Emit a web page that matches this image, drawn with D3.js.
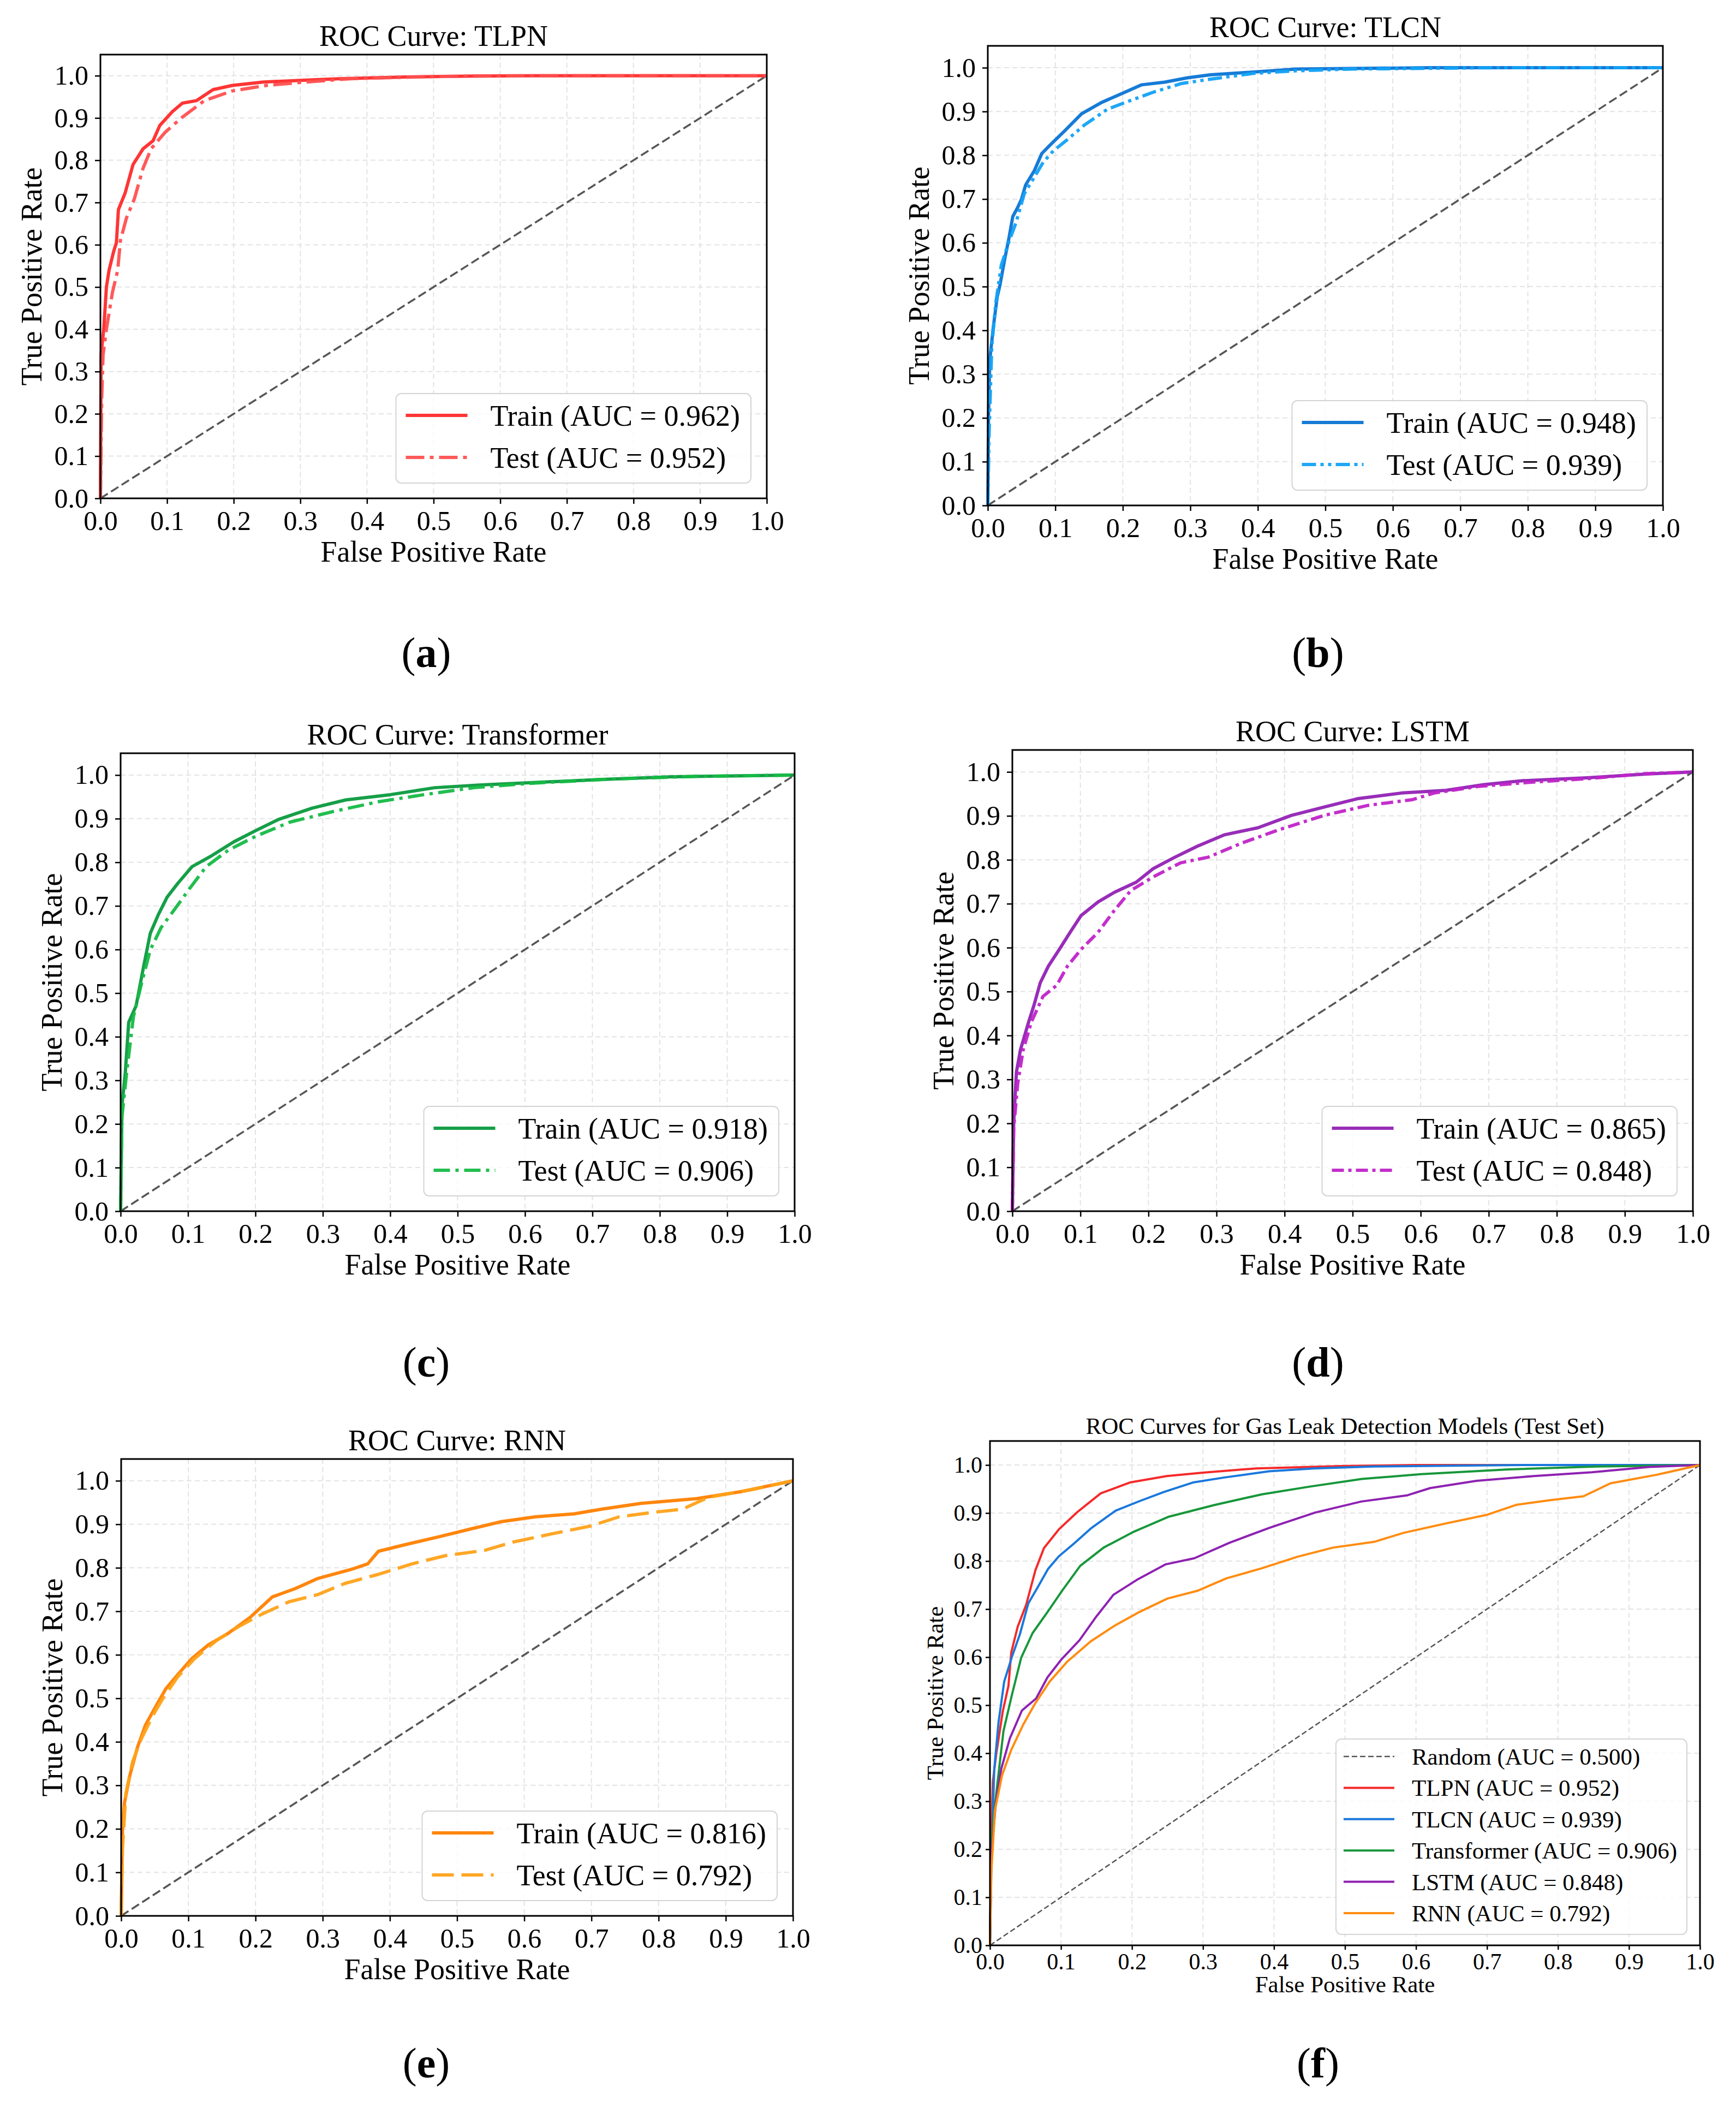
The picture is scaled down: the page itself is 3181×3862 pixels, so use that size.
<!DOCTYPE html>
<html>
<head>
<meta charset="utf-8">
<script src="https://cdn.jsdelivr.net/npm/d3@7"></script>
<style>body{margin:0;background:#fff}</style>
</head>
<body>
<svg id="main-svg"></svg>
<script>
// --- 1. Data ---
const models = ["TLPN", "TLCN", "Transformer", "LSTM", "RNN"];
const trainAuc = [0.962, 0.948, 0.918, 0.865, 0.816];
const testAuc = [0.952, 0.939, 0.906, 0.848, 0.792];
const randomAuc = 0.500;
const axisTicks = [0, 0.1, 0.2, 0.3, 0.4, 0.5, 0.6, 0.7, 0.8, 0.9, 1.0];
const panelLetters = ["a", "b", "c", "d", "e", "f"];

// [FPR, TPR] pairs
const tlpnTrain = [[0,0],[0.001,0.34],[0.005,0.40],[0.009,0.50],[0.013,0.54],[0.02,0.585],[0.024,0.605],[0.027,0.683],[0.037,0.722],[0.049,0.79],[0.064,0.827],[0.079,0.846],[0.089,0.882],[0.108,0.915],[0.123,0.935],[0.144,0.941],[0.169,0.967],[0.198,0.977],[0.245,0.985],[0.30,0.989],[0.358,0.993],[0.46,0.997],[0.55,0.999],[0.65,1.0],[1,1]];
const tlpnTest = [[0,0],[0.002,0.24],[0.004,0.34],[0.009,0.40],[0.018,0.487],[0.026,0.54],[0.03,0.61],[0.039,0.663],[0.051,0.709],[0.064,0.781],[0.076,0.827],[0.097,0.866],[0.123,0.902],[0.156,0.941],[0.198,0.964],[0.249,0.977],[0.30,0.984],[0.375,0.993],[0.50,0.998],[0.6,1.0],[1,1]];

const tlcnTrain = [[0,0],[0.001,0.20],[0.003,0.333],[0.008,0.405],[0.014,0.477],[0.018,0.503],[0.025,0.562],[0.031,0.608],[0.037,0.66],[0.044,0.68],[0.05,0.70],[0.056,0.732],[0.069,0.765],[0.08,0.804],[0.092,0.823],[0.114,0.856],[0.139,0.895],[0.169,0.921],[0.203,0.944],[0.228,0.961],[0.262,0.967],[0.296,0.977],[0.33,0.984],[0.393,0.99],[0.457,0.997],[0.655,1.0],[1,1]];
const tlcnTest = [[0,0],[0.002,0.17],[0.006,0.366],[0.012,0.464],[0.02,0.549],[0.031,0.601],[0.042,0.647],[0.054,0.712],[0.067,0.745],[0.082,0.784],[0.097,0.81],[0.118,0.836],[0.143,0.869],[0.177,0.905],[0.211,0.925],[0.245,0.944],[0.287,0.964],[0.33,0.974],[0.393,0.987],[0.457,0.993],[0.54,0.997],[0.75,1.0],[1,1]];

const transTrain = [[0,0],[0.002,0.242],[0.007,0.318],[0.012,0.433],[0.023,0.471],[0.034,0.56],[0.044,0.637],[0.056,0.68],[0.069,0.72],[0.085,0.752],[0.106,0.79],[0.135,0.815],[0.168,0.847],[0.201,0.873],[0.234,0.898],[0.284,0.924],[0.334,0.943],[0.40,0.955],[0.466,0.971],[0.532,0.977],[0.615,0.983],[0.714,0.99],[0.814,0.996],[1,1]];
const transTest = [[0,0],[0.002,0.217],[0.009,0.318],[0.019,0.446],[0.031,0.522],[0.044,0.599],[0.06,0.65],[0.081,0.694],[0.102,0.739],[0.127,0.79],[0.16,0.828],[0.201,0.86],[0.251,0.892],[0.317,0.917],[0.383,0.939],[0.45,0.955],[0.524,0.971],[0.607,0.981],[0.731,0.991],[0.855,0.997],[1,1]];

const lstmTrain = [[0,0],[0.002,0.203],[0.006,0.317],[0.012,0.368],[0.024,0.431],[0.032,0.47],[0.041,0.52],[0.053,0.558],[0.069,0.596],[0.085,0.635],[0.101,0.673],[0.126,0.704],[0.15,0.726],[0.182,0.749],[0.207,0.78],[0.239,0.806],[0.272,0.831],[0.312,0.857],[0.361,0.873],[0.41,0.901],[0.458,0.92],[0.507,0.939],[0.572,0.952],[0.637,0.958],[0.693,0.971],[0.75,0.98],[0.848,0.987],[0.929,0.995],[1,1]];
const lstmTest = [[0,0],[0.002,0.19],[0.008,0.292],[0.016,0.368],[0.028,0.431],[0.045,0.489],[0.065,0.514],[0.081,0.558],[0.101,0.596],[0.126,0.635],[0.15,0.685],[0.174,0.73],[0.207,0.761],[0.247,0.793],[0.288,0.806],[0.337,0.838],[0.393,0.869],[0.458,0.901],[0.523,0.924],[0.588,0.937],[0.62,0.952],[0.685,0.967],[0.766,0.977],[0.848,0.985],[0.929,0.996],[1,1]];

const rnnTrain = [[0,0],[0.002,0.197],[0.005,0.26],[0.013,0.323],[0.024,0.386],[0.036,0.438],[0.051,0.48],[0.067,0.523],[0.084,0.554],[0.105,0.591],[0.13,0.623],[0.159,0.649],[0.192,0.686],[0.225,0.733],[0.259,0.752],[0.292,0.775],[0.342,0.796],[0.367,0.809],[0.383,0.838],[0.425,0.854],[0.475,0.872],[0.525,0.891],[0.566,0.906],[0.616,0.917],[0.674,0.924],[0.716,0.935],[0.774,0.948],[0.857,0.959],[0.923,0.975],[1,1]];
const rnnTest = [[0,0],[0.002,0.155],[0.007,0.281],[0.017,0.354],[0.03,0.407],[0.047,0.46],[0.063,0.502],[0.084,0.549],[0.109,0.591],[0.142,0.633],[0.175,0.665],[0.209,0.693],[0.25,0.722],[0.292,0.738],[0.333,0.764],[0.383,0.785],[0.433,0.809],[0.483,0.828],[0.541,0.84],[0.583,0.859],[0.641,0.878],[0.699,0.896],[0.741,0.917],[0.79,0.927],[0.836,0.935],[0.874,0.962],[0.94,0.98],[1,1]];

const trainCurves = [tlpnTrain, tlcnTrain, transTrain, lstmTrain, rnnTrain];
const testCurves = [tlpnTest, tlcnTest, transTest, lstmTest, rnnTest];

// --- 2. Setup ---
const width = 3181, height = 3862;
const FONT = "'Liberation Serif', 'Times New Roman', serif";
const svg = d3.select("#main-svg")
    .attr("width", width)
    .attr("height", height)
    .style("background-color", "#fff");

// per-panel styles
const trainColors = ["#ff2a2a", "#0a74d4", "#0a9a3e", "#9222b4", "#ff7f00"];
const testColors = ["#ff5050", "#12a2f5", "#16bb46", "#c024c8", "#ffa21a"];
const testDashes = ["34,10,7,10", "26,8,6,8,6,8", "30,10,6,10", "22,8,6,8", "40,14"];
const compareColors = ["#f52a2a", "#1a78dc", "#17973a", "#8e22b2", "#ff8c10"];

// plot boxes: left, right, top, bottom
const boxes = [
    [184, 1405, 100, 913],
    [1810, 3047, 84, 926],
    [221, 1456, 1380, 2219],
    [1855, 3102, 1374, 2219],
    [222, 1453, 2673, 3510],
    [1814, 3115, 2640, 3564]
];
const letterPos = [[781, 1222], [2415, 1222], [781, 2522], [2415, 2522], [781, 3806], [2415, 3806]];

const bigStyle = {fs: 54, tickFs: 50, tickLen: 10, tickPad: 12, xlabOff: 116, ylabOff: 127, titleOff: 16,
    curveW: 6, diagW: 3.5, diagDash: "16,7",
    leg: {padL: 18, lineLen: 113, gap: 42, padR: 20, rowH: 77, padTop: 40, padBottom: 47, insetR: 29, insetB: 28}};
const smallStyle = {fs: 43, tickFs: 42, tickLen: 8, tickPad: 6, xlabOff: 86, ylabOff: 101, titleOff: 13,
    curveW: 4, diagW: 2.5, diagDash: "10,5",
    leg: {padL: 14, lineLen: 93, gap: 32, padR: 18, rowH: 57.4, padTop: 32, padBottom: 39, insetR: 24, insetB: 20}};

// --- 3. Drawing ---
function drawPanel(box, title, series, st) {
    const [left, right, top, bottom] = box;
    const g = svg.append("g");
    const x = d3.scaleLinear().domain([0, 1]).range([left, right]);
    const y = d3.scaleLinear().domain([0, 1.05]).range([bottom, top]);
    const line = d3.line().x(d => x(d[0])).y(d => y(d[1]));

    // grid
    g.append("g").selectAll("line").data(axisTicks).join("line")
        .attr("x1", d => x(d)).attr("x2", d => x(d)).attr("y1", top).attr("y2", bottom)
        .attr("stroke", "#e3e3e3").attr("stroke-width", 2).attr("stroke-dasharray", "9,6");
    g.append("g").selectAll("line").data(axisTicks).join("line")
        .attr("y1", d => y(d)).attr("y2", d => y(d)).attr("x1", left).attr("x2", right)
        .attr("stroke", "#e3e3e3").attr("stroke-width", 2).attr("stroke-dasharray", "9,6");

    // curves
    series.forEach(s => {
        g.append("path").datum(s.data).attr("d", line)
            .attr("fill", "none")
            .attr("stroke", s.color)
            .attr("stroke-width", s.width)
            .attr("stroke-dasharray", s.dash)
            .attr("stroke-linejoin", "round")
            .attr("stroke-opacity", s.opacity);
    });

    // frame
    g.append("rect").attr("x", left).attr("y", top)
        .attr("width", right - left).attr("height", bottom - top)
        .attr("fill", "none").attr("stroke", "#000").attr("stroke-width", 3);

    // axes
    const styleAxis = a => {
        a.select(".domain").remove();
        a.selectAll("line").attr("stroke", "#000").attr("stroke-width", 2.5);
        a.selectAll("text").attr("font-size", st.tickFs).attr("font-family", FONT).attr("fill", "#000");
    };
    g.append("g").attr("transform", `translate(0,${bottom})`)
        .call(d3.axisBottom(x).tickValues(axisTicks).tickFormat(d3.format(".1f"))
            .tickSize(st.tickLen).tickPadding(st.tickPad))
        .call(styleAxis);
    g.append("g").attr("transform", `translate(${left},0)`)
        .call(d3.axisLeft(y).tickValues(axisTicks).tickFormat(d3.format(".1f"))
            .tickSize(st.tickLen).tickPadding(st.tickPad))
        .call(styleAxis);

    // labels
    g.append("text").text(title)
        .attr("x", (left + right) / 2).attr("y", top - st.titleOff)
        .attr("text-anchor", "middle").attr("font-family", FONT).attr("font-size", st.fs);
    g.append("text").text("False Positive Rate")
        .attr("x", (left + right) / 2).attr("y", bottom + st.xlabOff)
        .attr("text-anchor", "middle").attr("font-family", FONT).attr("font-size", st.fs);
    g.append("text").text("True Positive Rate")
        .attr("transform", `translate(${left - st.ylabOff},${(top + bottom) / 2}) rotate(-90)`)
        .attr("text-anchor", "middle").attr("dy", "0.35em")
        .attr("font-family", FONT).attr("font-size", st.fs);

    // legend
    const L = st.leg;
    const items = series.filter(s => s.label);
    const lg = g.append("g");
    const boxRect = lg.append("rect");
    const texts = items.map((s, i) => lg.append("text").text(s.label)
        .attr("font-family", FONT).attr("font-size", st.fs).attr("dy", "0.35em"));
    const maxW = d3.max(texts, t => t.node().getComputedTextLength());
    const bw = L.padL + L.lineLen + L.gap + maxW + L.padR;
    const bh = L.padTop + (items.length - 1) * L.rowH + L.padBottom;
    const bx = right - L.insetR - bw;
    const by = bottom - L.insetB - bh;
    boxRect.attr("x", bx).attr("y", by).attr("width", bw).attr("height", bh)
        .attr("rx", 10).attr("fill", "#fff").attr("fill-opacity", 0.8)
        .attr("stroke", "#d4d4d4").attr("stroke-width", 2);
    items.forEach((s, i) => {
        const ry = by + L.padTop + i * L.rowH;
        lg.append("line").attr("x1", bx + L.padL).attr("x2", bx + L.padL + L.lineLen)
            .attr("y1", ry).attr("y2", ry)
            .attr("stroke", s.color).attr("stroke-width", s.width)
            .attr("stroke-dasharray", s.dash).attr("stroke-opacity", s.opacity);
        texts[i].attr("x", bx + L.padL + L.lineLen + L.gap).attr("y", ry);
    });
}

function diagonal(st, label) {
    return {data: [[0, 0], [1, 1]], color: "#444", width: st.diagW, dash: st.diagDash, opacity: 0.9, label: label};
}

// panels (a)-(e): one model each, train vs test
models.forEach((m, i) => {
    drawPanel(boxes[i], `ROC Curve: ${m}`, [
        diagonal(bigStyle, null),
        {data: trainCurves[i], color: trainColors[i], width: bigStyle.curveW, dash: null, opacity: 0.95,
            label: `Train (AUC = ${trainAuc[i].toFixed(3)})`},
        {data: testCurves[i], color: testColors[i], width: bigStyle.curveW, dash: testDashes[i], opacity: 0.95,
            label: `Test (AUC = ${testAuc[i].toFixed(3)})`}
    ], bigStyle);
});

// panel (f): all test curves
drawPanel(boxes[5], "ROC Curves for Gas Leak Detection Models (Test Set)",
    [diagonal(smallStyle, `Random (AUC = ${randomAuc.toFixed(3)})`)].concat(models.map((m, i) => ({
        data: testCurves[i], color: compareColors[i], width: smallStyle.curveW, dash: null, opacity: 1,
        label: `${m} (AUC = ${testAuc[i].toFixed(3)})`
    }))), smallStyle);

// panel letters
panelLetters.forEach((l, i) => {
    const t = svg.append("text")
        .attr("x", letterPos[i][0]).attr("y", letterPos[i][1])
        .attr("text-anchor", "middle").attr("font-family", FONT).attr("font-size", 78);
    t.append("tspan").text("(");
    t.append("tspan").text(l).attr("font-weight", "bold");
    t.append("tspan").text(")");
});
</script>
</body>
</html>
